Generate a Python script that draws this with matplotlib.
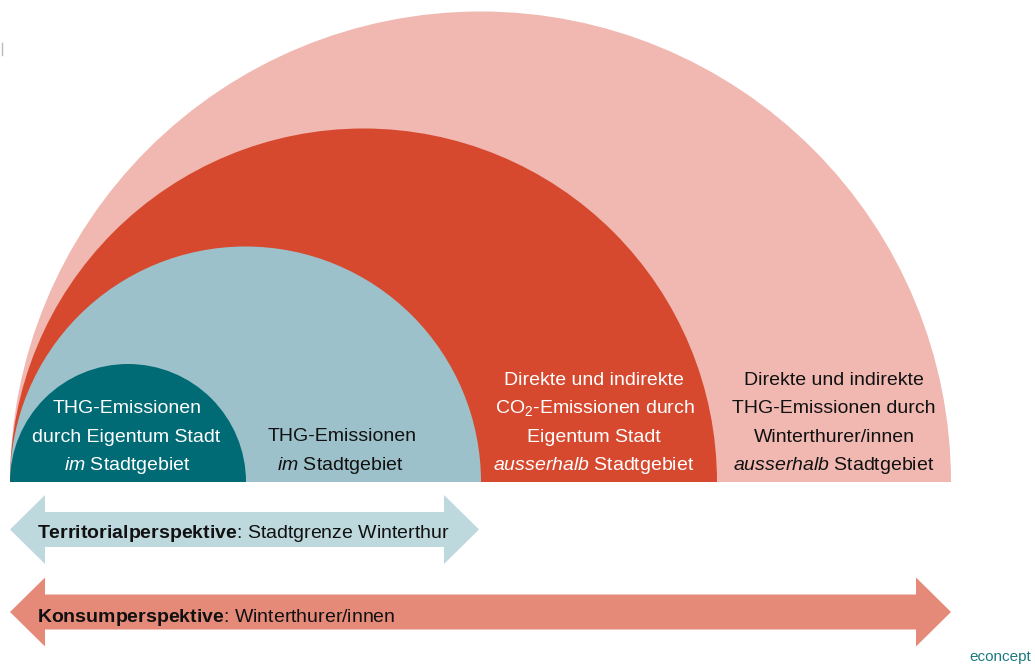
import matplotlib
matplotlib.use("Agg")
import matplotlib.pyplot as plt
from matplotlib.patches import Wedge, Polygon

# ---------------- data ----------------
ring_labels = ["Konsum THG ausserhalb", "CO2 Eigentum ausserhalb",
               "THG im Stadtgebiet", "THG Eigentum im Stadtgebiet"]
ring_radii = [470.5, 353.5, 235.5, 118.0]          # px, all share the left edge
ring_colors = ["#F0B8B1", "#D6492F", "#9CC1CA", "#006B75"]

FONT = ["Liberation Sans", "DejaVu Sans"]
plt.rcParams["mathtext.fontset"] = "custom"
plt.rcParams["mathtext.rm"] = "Liberation Sans"
plt.rcParams["mathtext.it"] = "Liberation Sans:italic"
plt.rcParams["mathtext.bf"] = "Liberation Sans:bold"

# (text, x_center, baseline_y, color)
ring_text = [
    [("THG-Emissionen", 127, 413), ("durch Eigentum Stadt", 126, 442),
     (r"$\mathit{im}$ Stadtgebiet", 127, 470), "white"],
    [("THG-Emissionen", 342, 441), (r"$\mathit{im}$ Stadtgebiet", 340, 470), "#111111"],
    [("Direkte und indirekte", 594, 385), (r"CO$_2$-Emissionen durch", 595, 413),
     ("Eigentum Stadt", 594, 442), (r"$\mathit{ausserhalb}$ Stadtgebiet", 594, 470), "white"],
    [("Direkte und indirekte", 834, 385), ("THG-Emissionen durch", 834, 413),
     ("Winterthurer/innen", 834, 442), (r"$\mathit{ausserhalb}$ Stadtgebiet", 834, 470), "#111111"],
]

# arrows: (x_left, x_right, y_center, double_headed, colour, bold, rest, text baseline)
arrows = [
    (10, 479, 529.5, True, "#BDD9DE", "Territorialperspektive", ": Stadtgrenze Winterthur", 538),
    (10, 951, 612, False, "#E58979", "Konsumperspektive", ": Winterthurer/innen", 622),
]
head_len, head_half, shaft_half = 35, 34.5, 17.5
FS = 14

W, H = 1035, 664
fig = plt.figure(figsize=(W / 100, H / 100), dpi=100)
ax = fig.add_axes([0, 0, 1, 1])
ax.set_xlim(0, W)
ax.set_ylim(H, 0)
ax.axis("off")

left_x, base_y = 10, 482
for r, c in zip(ring_radii, ring_colors):
    ax.add_patch(Wedge((left_x + r, base_y), r, 180, 360, facecolor=c,
                       edgecolor="none", antialiased=True))

for block in ring_text:
    col = block[-1]
    for (t, x, y) in block[:-1]:
        ax.text(x, y, t, ha="center", va="baseline", color=col,
                fontsize=FS, family=FONT)

for (x0, x1, yc, double, col, bold, rest, by) in arrows:
    pts = [(x0, yc), (x0 + head_len, yc - head_half), (x0 + head_len, yc - shaft_half),
           (x1 - head_len, yc - shaft_half), (x1 - head_len, yc - head_half), (x1, yc),
           (x1 - head_len, yc + head_half), (x1 - head_len, yc + shaft_half),
           (x0 + head_len, yc + shaft_half), (x0 + head_len, yc + head_half)]
    ax.add_patch(Polygon(pts, closed=True, facecolor=col, edgecolor="none"))
    ax.text(37, by, r"$\mathbf{" + bold + "}$" + rest, ha="left", va="baseline",
            color="#111111", fontsize=FS, family=FONT)

ax.text(1031, 661, "econcept", ha="right", va="baseline", color="#1B7A80",
        fontsize=11, family=["Liberation Sans", "DejaVu Sans"])
ax.plot([1.5, 1.5], [43, 55], color="#BBBBBB", lw=1)

fig.savefig("out.png", dpi=100, facecolor="white")
